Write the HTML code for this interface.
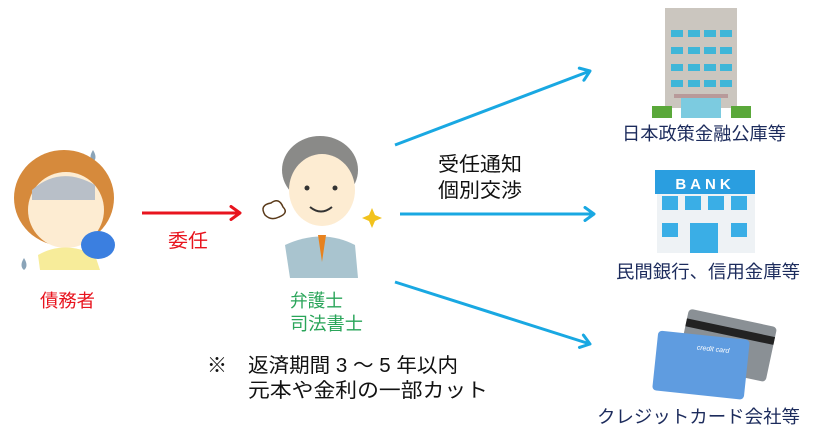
<!DOCTYPE html>
<html><head><meta charset="utf-8"><style>
html,body{margin:0;padding:0;background:#fff;}
svg{display:block;}
text{font-family:"Liberation Sans","Noto Sans CJK JP",sans-serif;}
</style></head><body>
<svg width="815" height="440" viewBox="0 0 815 440" xmlns="http://www.w3.org/2000/svg">
<defs>
<marker id="bh" markerWidth="14" markerHeight="16" refX="11" refY="8" orient="auto" markerUnits="userSpaceOnUse"><path d="M2,1.5 L11,8 L2,14.5" fill="none" stroke="#19a8e2" stroke-width="3" stroke-linecap="round" stroke-linejoin="round"/></marker>
<marker id="rh" markerWidth="14" markerHeight="16" refX="11" refY="8" orient="auto" markerUnits="userSpaceOnUse"><path d="M2,1.5 L11,8 L2,14.5" fill="none" stroke="#e8141e" stroke-width="3" stroke-linecap="round" stroke-linejoin="round"/></marker>
</defs>
<!-- arrows -->
<line x1="142" y1="213" x2="240" y2="213" stroke="#e8141e" stroke-width="3" marker-end="url(#rh)"/>
<line x1="395" y1="145" x2="590" y2="71" stroke="#19a8e2" stroke-width="3" marker-end="url(#bh)"/>
<line x1="400" y1="214" x2="594" y2="214" stroke="#19a8e2" stroke-width="3" marker-end="url(#bh)"/>
<line x1="395" y1="282" x2="590" y2="344" stroke="#19a8e2" stroke-width="3" marker-end="url(#bh)"/>

<!-- woman -->
<path d="M93,150 q5,8 0,12 q-5,-4 0,-12z" fill="#8aa4b8"/>
<ellipse cx="64" cy="198" rx="50" ry="48" fill="#d68a3c"/>
<ellipse cx="66" cy="210" rx="38" ry="38" fill="#fdecd2"/>
<path d="M32,190 Q60,165 95,185 L95,200 L32,200 Z" fill="#b8bfc8"/>
<path d="M38,255 Q64,240 95,255 L100,270 L40,270 Z" fill="#f7ec9a"/>
<ellipse cx="98" cy="245" rx="17" ry="14" fill="#3b7fe0"/>
<path d="M24,258 q5,8 0,12 q-5,-4 0,-12z" fill="#8aa4b8"/>

<!-- man -->
<ellipse cx="320" cy="170" rx="38" ry="34" fill="#8a8a88"/>
<ellipse cx="322" cy="190" rx="33" ry="36" fill="#fdecd2"/>
<circle cx="307" cy="188" r="2.5" fill="#333"/><circle cx="335" cy="188" r="2.5" fill="#333"/>
<path d="M310,207 Q321,216 332,207" stroke="#333" stroke-width="2" fill="none"/>
<path d="M285,245 Q322,228 355,245 L358,278 L290,278 Z" fill="#a9c4cf"/>
<path d="M318,235 L326,235 L322,262 Z" fill="#e8821e"/>
<path d="M265,215 q-6,-10 6,-12 q8,-6 12,4 q6,6 -4,10 q-8,4 -14,-2z" fill="#fff" stroke="#5a3a1a" stroke-width="1.5"/>
<path d="M369,215 l3,-7 l3,7 l7,3 l-7,3 l-3,7 l-3,-7 l-7,-3z" fill="#f2c21c"/>

<!-- building 1 -->
<rect x="665" y="8" width="72" height="100" fill="#cbc6bf"/>
<g fill="#3fb6d8">
<rect x="671" y="30" width="12" height="7"/><rect x="688" y="30" width="12" height="7"/><rect x="704" y="30" width="12" height="7"/><rect x="720" y="30" width="12" height="7"/>
<rect x="671" y="47" width="12" height="7"/><rect x="688" y="47" width="12" height="7"/><rect x="704" y="47" width="12" height="7"/><rect x="720" y="47" width="12" height="7"/>
<rect x="671" y="64" width="12" height="7"/><rect x="688" y="64" width="12" height="7"/><rect x="704" y="64" width="12" height="7"/><rect x="720" y="64" width="12" height="7"/>
<rect x="671" y="80" width="12" height="7"/><rect x="688" y="80" width="12" height="7"/><rect x="704" y="80" width="12" height="7"/><rect x="720" y="80" width="12" height="7"/>
</g>
<rect x="674" y="94" width="54" height="4" fill="#b89a9a"/>
<rect x="681" y="98" width="40" height="20" fill="#7ccbe0"/>
<rect x="652" y="106" width="20" height="12" fill="#5aa83a"/><rect x="731" y="106" width="20" height="12" fill="#5aa83a"/>
<text x="622" y="140" font-size="18" fill="#1c2b5c" textLength="164" lengthAdjust="spacingAndGlyphs">日本政策金融公庫等</text>

<!-- bank -->
<rect x="657" y="193" width="98" height="60" fill="#eef2f5"/>
<rect x="655" y="170" width="100" height="24" fill="#2a9ee0"/>
<text x="705" y="189" font-size="15" font-weight="bold" fill="#fff" text-anchor="middle" letter-spacing="4">BANK</text>
<g fill="#3aaee6"><rect x="662" y="196" width="16" height="14"/><rect x="685" y="196" width="16" height="14"/><rect x="708" y="196" width="16" height="14"/><rect x="731" y="196" width="16" height="14"/><rect x="662" y="223" width="16" height="14"/><rect x="731" y="223" width="16" height="14"/></g>
<rect x="690" y="223" width="28" height="30" fill="#3aaee6"/>
<text x="616" y="278" font-size="18" fill="#1c2b5c" textLength="184" lengthAdjust="spacingAndGlyphs">民間銀行、信用金庫等</text>

<!-- cards -->
<g transform="rotate(12 715 355)"><rect x="680" y="315" width="90" height="56" rx="4" fill="#8a9095"/><rect x="680" y="325" width="90" height="8" fill="#222"/></g>
<g transform="rotate(6 700 365)"><rect x="655" y="335" width="92" height="60" rx="4" fill="#5f9ce0"/><text x="695" y="350" font-size="7" fill="#fff" font-style="italic">credit card</text></g>
<text x="597" y="423" font-size="18" fill="#1c2b5c" textLength="203" lengthAdjust="spacingAndGlyphs">クレジットカード会社等</text>

<!-- labels -->
<text x="40" y="307" font-size="18" fill="#e8141e" textLength="55" lengthAdjust="spacingAndGlyphs">債務者</text>
<text x="168" y="247" font-size="19" fill="#e8141e" textLength="40" lengthAdjust="spacingAndGlyphs">委任</text>
<text x="290" y="307" font-size="18" fill="#2aa55a" textLength="53" lengthAdjust="spacingAndGlyphs">弁護士</text>
<text x="290" y="330" font-size="18" fill="#2aa55a" textLength="73" lengthAdjust="spacingAndGlyphs">司法書士</text>
<text x="438" y="171" font-size="20" fill="#111" textLength="84" lengthAdjust="spacingAndGlyphs">受任通知</text>
<text x="438" y="197" font-size="20" fill="#111" textLength="84" lengthAdjust="spacingAndGlyphs">個別交渉</text>
<text x="207" y="372" font-size="20" fill="#111">※</text>
<text x="248" y="372" font-size="20" fill="#111" textLength="210" lengthAdjust="spacingAndGlyphs">返済期間 3 ～ 5 年以内</text>
<text x="248" y="397" font-size="20" fill="#111" textLength="240" lengthAdjust="spacingAndGlyphs">元本や金利の一部カット</text>
</svg>
</body></html>
